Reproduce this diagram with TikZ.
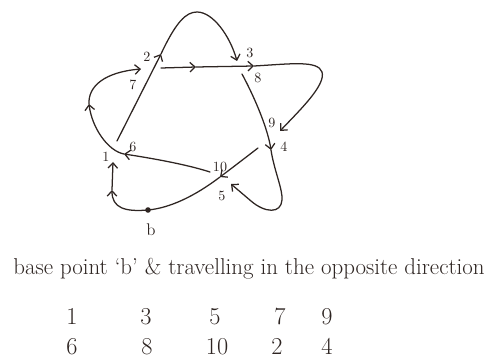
\documentclass[tikz,border=0pt]{standalone}
\usepackage{tikz}
\usetikzlibrary{arrows.meta}
\definecolor{knotink}{HTML}{2E2522}

\begin{document}
\begin{tikzpicture}[
  x=0.025cm, y=-0.025cm,
  knot/.style={draw=knotink, line width=0.9pt, line cap=round},
  arr/.style={knot, -{Straight Barb[length=1.3mm, width=2.4mm]}},
  lbl/.style={font=\normalsize, text=knotink, inner sep=0pt},
  row/.style={font=\LARGE, text=knotink, anchor=base, inner sep=0pt}
]
\useasboundingbox (0,0) rectangle (489,361);

% under strands stop short of each crossing
\coordinate (a0) at (117,141); \coordinate (a1) at (161,54);
\coordinate (apex) at (197,12); \coordinate (a2) at (237,61);
\coordinate (b0) at (242,74);  \coordinate (b1) at (271,150);
\coordinate (b2) at (231,184);
\coordinate (c0) at (210,172); \coordinate (c1) at (124,154);
\coordinate (c2) at (89,104);  \coordinate (c3) at (141,69);
\coordinate (d0) at (161,68);  \coordinate (d1) at (196,67);
\coordinate (d2) at (254,66);  \coordinate (d3) at (280,131);
\coordinate (e0) at (258,148); \coordinate (e1) at (220,177);
\coordinate (bp) at (148,210); \coordinate (e2) at (112,190);
\coordinate (e3) at (113,162);

\draw[arr] (a0) -- (a1);
\draw[arr] (a1) .. controls (176,22) and (186,12) .. (apex) .. controls (213,12) and (230,36) .. (a2);
\draw[arr] (b0) .. controls (256,100) and (268,130) .. (b1);
\draw[arr] (b1) .. controls (274,170) and (283,190) .. (282,200) .. controls (281,214) and (265,213) .. (251,201) -- (b2);
\draw[arr] (c0) .. controls (185,164) and (150,158) .. (c1);
\draw[arr] (c1) .. controls (108,151) and (92,128) .. (c2);
\draw[arr] (c2) .. controls (88,86) and (105,72) .. (c3);
\draw[arr] (d0) -- (d1);
\draw[arr] (d1) -- (d2);
\draw[arr] (d2) .. controls (290,64) and (318,60) .. (322,72) .. controls (326,85) and (300,110) .. (d3);
\draw[arr] (e0) .. controls (245,158) and (232,168) .. (e1);
\draw[knot] (e1) .. controls (195,196) and (170,208) .. (bp);
\draw[arr] (bp) .. controls (125,212) and (112,208) .. (e2);
\draw[arr] (e2) -- (e3);
\fill[knotink] (bp) circle (0.7mm);

\node[lbl] (n1) at (106,157) {1};
\node[lbl] (n2) at (147,57) {2};
\node[lbl] (n3) at (250,53) {3};
\node[lbl] (n4) at (284,147) {4};
\node[lbl] (n5) at (222,196) {5};
\node[lbl] (n6) at (133,147) {6};
\node[lbl] (n7) at (133,85) {7};
\node[lbl] (n8) at (258,78) {8};
\node[lbl] (n9) at (272,123) {9};
\node[lbl] (n10) at (220,167) {10};
\node[lbl, font=\large] (nb) at (151,230) {b};

\node[font=\fontsize{16.3}{19}\selectfont, text=knotink, anchor=base] (title) at (249,275) {base point `b' \& travelling in the opposite direction};

\node[row] (top1) at (72,325) {1};
\node[row] (top3) at (146,325) {3};
\node[row] (top5) at (215,325) {5};
\node[row] (top7) at (280,325) {7};
\node[row] (top9) at (327,325) {9};
\node[row] (bot6) at (72,355) {6};
\node[row] (bot8) at (147,355) {8};
\node[row] (bot10) at (217,355) {10};
\node[row] (bot2) at (277,355) {2};
\node[row] (bot4) at (327,355) {4};
\end{tikzpicture}
\end{document}
